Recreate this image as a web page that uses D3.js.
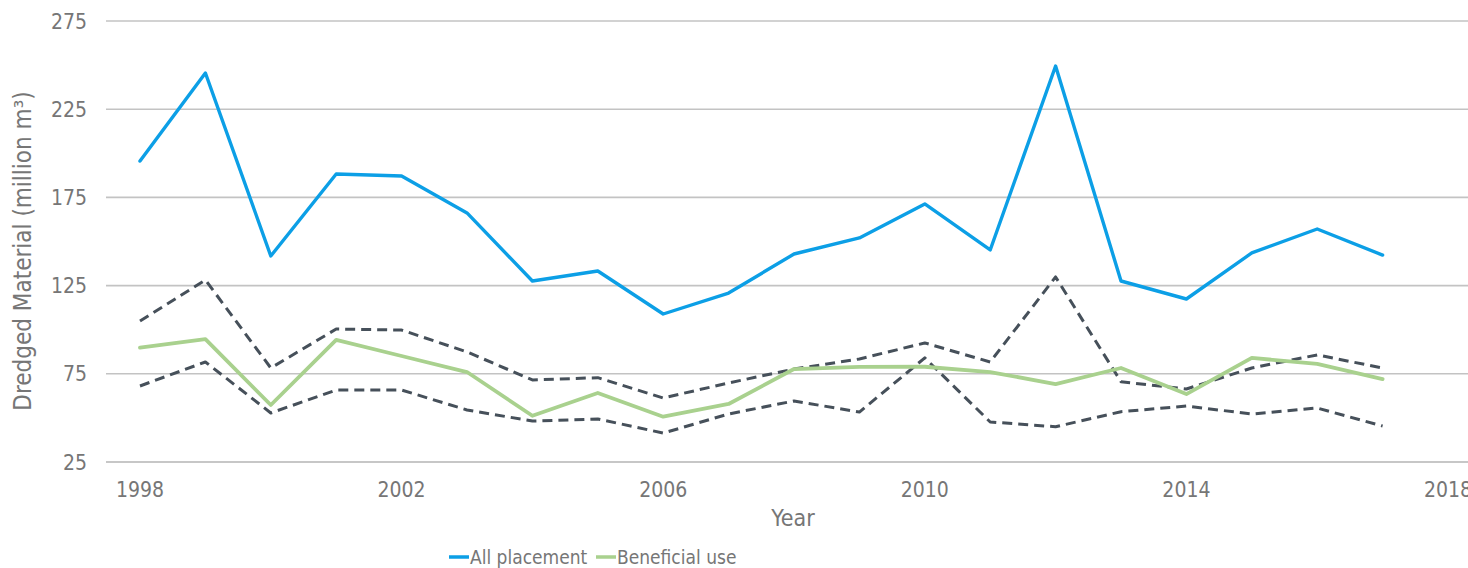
<!DOCTYPE html>
<html><head><meta charset="utf-8">
<script src="https://cdn.jsdelivr.net/npm/d3@7/dist/d3.min.js"></script>
<style>
html,body{margin:0;padding:0;background:#fff;}
svg text{font-family:"DejaVu Sans Condensed","DejaVu Sans",Verdana,sans-serif;font-stretch:condensed;fill:#767676;}
</style></head>
<body>
<svg id="chart" width="1468" height="568"></svg>
<script>
const years = [1998,1999,2000,2001,2002,2003,2004,2005,2006,2007,2008,2009,2010,2011,2012,2013,2014,2015,2016,2017];
const allPlacement = [195.6,245.5,141.8,188.3,187.1,166.2,127.6,133.3,108.9,120.8,142.9,152,171.3,145.2,249.5,127.6,117.4,143.5,157.1,142.3];
const beneficialUse = [89.8,94.7,57.3,94.2,85.1,76,51.2,64.1,50.7,57.9,77.7,78.9,79,76,69.2,78.3,63.5,84,80.6,72];
const upperBound = [104.9,128.2,78.3,100.4,99.8,87.4,71.5,72.8,61.3,69.8,77.7,83.4,92.5,81.7,129.9,70.5,66.4,78.3,85.7,78.3];
const lowerBound = [68.1,81.7,52.8,65.8,65.8,54.5,48.2,49.4,41.4,52.2,59.6,53.3,84,47.7,45,53.5,56.7,52.2,55.6,45.4];
const yTicks = [25,75,125,175,225,275];
const xTicks = [1998,2002,2006,2010,2014,2018];
const legendItems = ["All placement","Beneficial use"];
const colors = {all:"#0c9fe6", ben:"#a9d18e", band:"#46505a"};

const svg = d3.select("#chart");
const W = 1468;
const x = d3.scaleLinear().domain([1998,2018]).range([140,1448]);
const y = d3.scaleLinear().domain([25,275]).range([462,21]);
const gridLeft = x(1997.48);

// gridlines
svg.append("g").selectAll("line").data(yTicks).join("line")
  .attr("x1",gridLeft).attr("x2",W)
  .attr("y1",d=>y(d)).attr("y2",d=>y(d))
  .attr("stroke",d=>d===25?"#b5b5b5":"#c3c3c3").attr("stroke-width",1.6);

// y tick labels
svg.append("g").selectAll("text").data(yTicks).join("text")
  .attr("x",87).attr("y",d=>y(d)).attr("dy","0.36em")
  .attr("text-anchor","end").attr("font-size",21).text(d=>d);

// x tick labels
svg.append("g").selectAll("text").data(xTicks).join("text")
  .attr("x",d=>x(d)).attr("y",497)
  .attr("text-anchor","middle").attr("font-size",21).text(d=>d);

// axis titles
svg.append("text").attr("x",793).attr("y",526).attr("text-anchor","middle")
  .attr("font-size",23).text("Year");
svg.append("text").attr("transform","translate(31,251) rotate(-90)")
  .attr("text-anchor","middle").attr("font-size",24).text("Dredged Material (million m³)");

const line = d3.line().x((d,i)=>x(years[i])).y(d=>y(d));

function draw(data,color,width,dash){
  svg.append("path").datum(data).attr("d",line)
    .attr("fill","none").attr("stroke",color).attr("stroke-width",width)
    .attr("stroke-linejoin","round").attr("stroke-linecap",dash?"butt":"round")
    .attr("stroke-dasharray",dash||null);
}
draw(upperBound,colors.band,3,"10,6");
draw(lowerBound,colors.band,3,"10,6");
draw(beneficialUse,colors.ben,3.8,null);
draw(allPlacement,colors.all,3.4,null);

// legend
const leg = svg.append("g");
const legX = [449,596];
const legColors = [colors.all,colors.ben];
legendItems.forEach((t,i)=>{
  leg.append("line").attr("x1",legX[i]).attr("x2",legX[i]+20).attr("y1",557).attr("y2",557)
    .attr("stroke",legColors[i]).attr("stroke-width",3.5);
  leg.append("text").attr("x",legX[i]+21).attr("y",557).attr("dy","0.36em")
    .attr("font-size",19).text(t);
});
</script>
</body></html>
